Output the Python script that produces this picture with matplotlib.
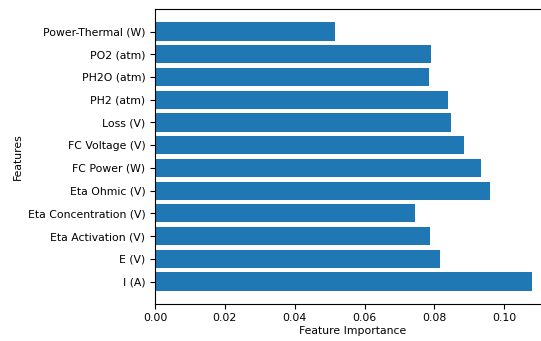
import matplotlib
matplotlib.use("Agg")
import matplotlib.pyplot as plt

features = ["I (A)", "E (V)", "Eta Activation (V)", "Eta Concentration (V)",
            "Eta Ohmic (V)", "FC Power (W)", "FC Voltage (V)", "Loss (V)",
            "PH2 (atm)", "PH2O (atm)", "PO2 (atm)", "Power-Thermal (W)"]
importance = [0.1080, 0.0815, 0.0788, 0.0745, 0.0959, 0.0934, 0.0884,
              0.0847, 0.0838, 0.0784, 0.0789, 0.0516]
xticks = [0.00, 0.02, 0.04, 0.06, 0.08, 0.10]

plt.rcParams["font.size"] = 7.8

fig = plt.figure(figsize=(5.41, 3.41), dpi=100)
# axes runs past the right edge, the reference is cropped there
ax = fig.add_axes([155 / 541, 1 - 304 / 341, 396 / 541, 295 / 341])
ax.barh(features, importance, color="#1f77b4")
ax.set_xticks(xticks)
ax.set_xticklabels(["%.2f" % t for t in xticks])
ax.tick_params(axis="x", pad=3)
ax.set_xlabel("Feature Importance", labelpad=2)
ax.set_ylabel("Features", labelpad=3)

fig.savefig("out.png", dpi=100)
